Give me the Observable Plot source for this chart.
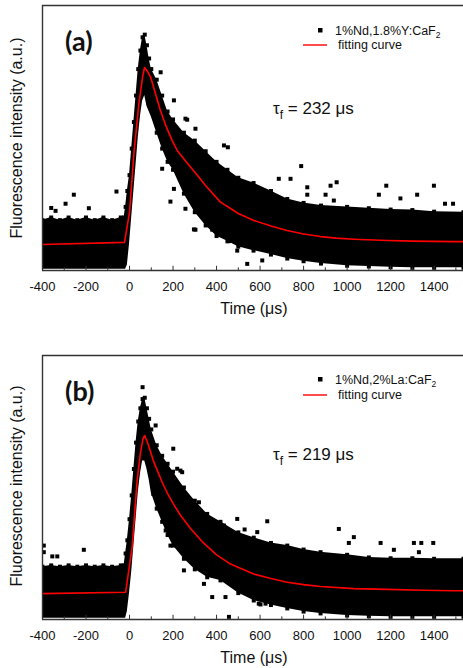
<!DOCTYPE html>
<html>
<head>
<meta charset="utf-8">
<script src="https://cdn.jsdelivr.net/npm/d3@7"></script>
<script src="https://cdn.jsdelivr.net/npm/@observablehq/plot@0.6"></script>
<style>
  body { margin: 0; background: #fff; }
  #wrap { position: relative; width: 463px; height: 668px; overflow: hidden; background: #fff; }
  .panel { position: absolute; left: 0; }
  #overlay { position: absolute; left: 0; top: 0; pointer-events: none; }
</style>
</head>
<body>
<div id="wrap">
  <div class="panel" id="pa" style="top:0"></div>
  <div class="panel" id="pb" style="top:335px"></div>
  <svg id="overlay" width="463" height="668"></svg>
</div>
<script>
// ---------- shared axis ----------
const xDomain = [-400, 1535];
const xTicks = [-400, -200, 0, 200, 400, 600, 800, 1000, 1200, 1400];
const xMinorTicks = [-300, -100, 100, 300, 500, 700, 900, 1100, 1300, 1500];

// ---------- panel (a): 1%Nd,1.8%Y:CaF2 ----------
// dense scatter band (time, lower envelope, upper envelope)
const bandTimeA = [-400,-360,-320,-280,-240,-200,-160,-120,-80,-40,-25,-18,-10,0,10,20,30,40,50,60,70,80,90,100,125,150,175,200,250,300,350,400,450,500,570,650,725,800,880,1000,1100,1200,1300,1400,1535];
const bandLowA  = [0.005,0.005,0.005,0.005,0.005,0.005,0.005,0.005,0.005,0.005,0.005,0.005,0.02,0.1,0.2,0.3,0.4,0.5,0.58,0.64,0.66,0.62,0.6,0.58,0.52,0.46,0.41,0.38,0.29,0.22,0.17,0.13,0.11,0.09,0.075,0.06,0.045,0.035,0.026,0.018,0.015,0.012,0.01,0.01,0.01];
const bandHighA = [0.19,0.2,0.19,0.2,0.19,0.2,0.19,0.2,0.19,0.2,0.2,0.24,0.3,0.36,0.46,0.56,0.66,0.76,0.83,0.88,0.89,0.85,0.8,0.76,0.72,0.66,0.6,0.57,0.52,0.49,0.45,0.41,0.38,0.35,0.33,0.3,0.27,0.255,0.245,0.24,0.235,0.23,0.228,0.222,0.22];
// isolated points outside the band
const outTimeA  = [-360,-340,-294,-256,-187,-60,143,150,188,204,204,257,257,265,296,303,303,380,426,434,452,457,495,541,610,686,740,789,817,817,901,924,939,952,1146,1180,1245,1322,1399,1450,1487];
const outValueA = [0.236,0.225,0.252,0.286,0.235,0.298,0.748,0.384,0.26,0.642,0.308,0.233,0.573,0.569,0.155,0.535,0.154,0.154,0.138,0.472,0.465,0.111,0.075,0.025,0.038,0.346,0.346,0.394,0.314,0.286,0.286,0.32,0.264,0.333,0.286,0.32,0.272,0.286,0.32,0.252,0.252];
// fitting curve
const fitTimeA  = [-400,-23,0,20,43,60,69,80,97,120,142,170,196,219,260,311,350,418,464,500,571,650,724,800,878,950,1031,1185,1300,1491,1535];
const fitValueA = [0.098,0.106,0.22,0.44,0.63,0.73,0.766,0.755,0.73,0.665,0.604,0.54,0.49,0.453,0.41,0.36,0.32,0.258,0.234,0.215,0.189,0.168,0.151,0.138,0.128,0.122,0.118,0.113,0.111,0.109,0.109];

// ---------- panel (b): 1%Nd,2%La:CaF2 ----------
const bandTimeB = [-400,-360,-320,-280,-240,-200,-160,-120,-80,-40,-25,-18,-10,0,10,20,30,40,50,60,70,80,90,100,125,150,175,200,250,300,357,418,500,571,650,725,800,878,1000,1100,1200,1300,1400,1535];
const bandLowB  = [0.005,0.005,0.005,0.005,0.005,0.005,0.005,0.005,0.005,0.005,0.005,0.005,0.03,0.1,0.18,0.28,0.38,0.48,0.55,0.6,0.6,0.57,0.53,0.48,0.42,0.37,0.32,0.28,0.23,0.19,0.16,0.148,0.1,0.072,0.055,0.042,0.03,0.023,0.015,0.012,0.01,0.01,0.01,0.01];
const bandHighB = [0.2,0.205,0.2,0.205,0.2,0.205,0.2,0.205,0.2,0.205,0.205,0.25,0.3,0.38,0.47,0.57,0.67,0.75,0.8,0.835,0.84,0.8,0.76,0.72,0.66,0.62,0.59,0.56,0.5,0.45,0.4,0.37,0.33,0.31,0.29,0.28,0.265,0.255,0.245,0.235,0.232,0.232,0.23,0.23];
const outTimeB  = [-394,-394,-355,-332,-210,60,109,120,166,173,188,201,219,234,242,250,319,342,380,434,441,457,495,529,587,594,602,625,633,962,1008,1031,1154,1215,1307,1330,1341,1396];
const outValueB = [0.28,0.255,0.239,0.239,0.264,0.88,0.476,0.735,0.337,0.571,0.28,0.647,0.571,0.564,0.558,0.186,0.444,0.135,0.085,0.356,0.085,0.01,0.381,0.341,0.331,0.06,0.057,0.06,0.372,0.343,0.29,0.312,0.29,0.264,0.29,0.255,0.29,0.29];
const fitTimeB  = [-400,-18,12,35,50,62,70,85,110,130,150,173,200,234,280,340,400,464,520,571,650,725,800,878,1032,1185,1350,1491,1535];
const fitValueB = [0.098,0.103,0.274,0.527,0.63,0.685,0.697,0.665,0.6,0.56,0.52,0.48,0.44,0.395,0.345,0.29,0.245,0.21,0.19,0.172,0.155,0.141,0.132,0.125,0.117,0.114,0.111,0.109,0.109];

// ---------- text ----------
const panelLabels = ["(a)", "(b)"];
const seriesNames = ["1%Nd,1.8%Y:CaF", "1%Nd,2%La:CaF"];
const lifetimes = [232, 219];
const fitName = "fitting curve";
const xTitle = "Time (\u03bcs)";
const yTitle = "Fluorescence intensity (a.u.)";

const font = "'Liberation Sans', Arial, sans-serif";

function zip(t, a, b) {
  return t.map((d, i) => b ? {t: d, lo: a[i], hi: b[i]} : {t: d, v: a[i]});
}

function panel(opts) {
  const band = zip(opts.bandTime, opts.bandLow, opts.bandHigh);
  const outs = zip(opts.outTime, opts.outValue);
  const fit = zip(opts.fitTime, opts.fitValue);
  return Plot.plot({
    width: 463,
    height: opts.height,
    marginTop: opts.marginTop,
    marginBottom: opts.marginBottom,
    marginLeft: 42,
    marginRight: 0,
    style: {fontFamily: font, fontSize: "13px", color: "#111", background: "#fff"},
    x: {domain: xDomain, label: null},
    y: {domain: [0, 1], axis: null},
    marks: [
      Plot.areaY(band, {x: "t", y1: "lo", y2: "hi", fill: "#000", curve: "linear", clip: true}),
      Plot.dot(band, {x: "t", y: "hi", symbol: "square", r: 2.25, fill: "#000", clip: true}),
      Plot.dot(band.filter(d => d.t >= 120), {x: "t", y: "lo", symbol: "square", r: 2.25, fill: "#000", clip: true}),
      Plot.dot(outs, {x: "t", y: "v", symbol: "square", r: 2.25, fill: "#000", clip: true}),
      Plot.line(fit, {x: "t", y: "v", stroke: "#ff0000", strokeWidth: 1.6, curve: "linear", clip: true}),
      Plot.ruleY([0], {stroke: "#333", strokeWidth: 1.4}),
      Plot.ruleY([1], {stroke: "#333", strokeWidth: 1.4}),
      Plot.ruleX([xDomain[0]], {stroke: "#333", strokeWidth: 1.4}),
      Plot.ruleX(xTicks, {y1: 0, y2: 0.016, stroke: "#333", strokeWidth: 1}),
      Plot.ruleX(xMinorTicks, {y1: 0, y2: 0.01, stroke: "#333", strokeWidth: 1}),
      Plot.axisX({ticks: xTicks, tickSize: 0, tickPadding: 11, tickFormat: d => String(d), label: null, fill: "#111"})
    ]
  });
}

document.getElementById("pa").append(panel({
  height: 335, marginTop: 5, marginBottom: 65,
  bandTime: bandTimeA, bandLow: bandLowA, bandHigh: bandHighA,
  outTime: outTimeA, outValue: outValueA, fitTime: fitTimeA, fitValue: fitValueA
}));
document.getElementById("pb").append(panel({
  height: 333, marginTop: 20, marginBottom: 49,
  bandTime: bandTimeB, bandLow: bandLowB, bandHigh: bandHighB,
  outTime: outTimeB, outValue: outValueB, fitTime: fitTimeB, fitValue: fitValueB
}));

// ---------- annotations / legends ----------
const svg = d3.select("#overlay");
const offsets = [0, 350];
const legendY1 = [35, 34];
const legendY2 = [49, 49];
offsets.forEach((oy, i) => {
  const g = svg.append("g").attr("transform", `translate(0,${oy})`).style("font-family", font).attr("fill", "#111");
  g.append("text").attr("x", 65).attr("y", 51).style("font-family", "Lato, 'Open Sans', sans-serif")
    .style("font-weight", 700).style("font-size", "27px").text(panelLabels[i]);
  // legend
  g.append("rect").attr("x", 318).attr("y", legendY1[i] - 7).attr("width", 4.5).attr("height", 4.5).attr("fill", "#000");
  const t1 = g.append("text").attr("x", 335).attr("y", legendY1[i]).style("font-size", "12.5px");
  t1.append("tspan").text(seriesNames[i]);
  t1.append("tspan").attr("baseline-shift", "-3").style("font-size", "8.5px").text("2");
  g.append("line").attr("x1", 303).attr("x2", 327).attr("y1", legendY2[i] - 4).attr("y2", legendY2[i] - 4)
    .attr("stroke", "#ff0000").attr("stroke-width", 1.4);
  g.append("text").attr("x", 338).attr("y", legendY2[i]).style("font-size", "12.5px").text(fitName);
  // lifetime
  const tt = g.append("text").attr("x", 273).attr("y", 114 + (i ? -4 : 0)).style("font-size", "17px");
  tt.append("tspan").text("\u03c4");
  tt.append("tspan").attr("baseline-shift", "-5").style("font-size", "12px").text("f");
  tt.append("tspan").text(` = ${lifetimes[i]} \u03bcs`);
  // axis titles
  g.append("text").attr("x", 254).attr("y", 314 - (i ? 1 : 0)).attr("text-anchor", "middle").style("font-size", "16px").text(xTitle);
  g.append("text").attr("transform", `translate(22,${138 + (i ? -2 : 0)}) rotate(-90)`).attr("text-anchor", "middle")
    .style("font-size", "16px").text(yTitle);
});
</script>
</body>
</html>
